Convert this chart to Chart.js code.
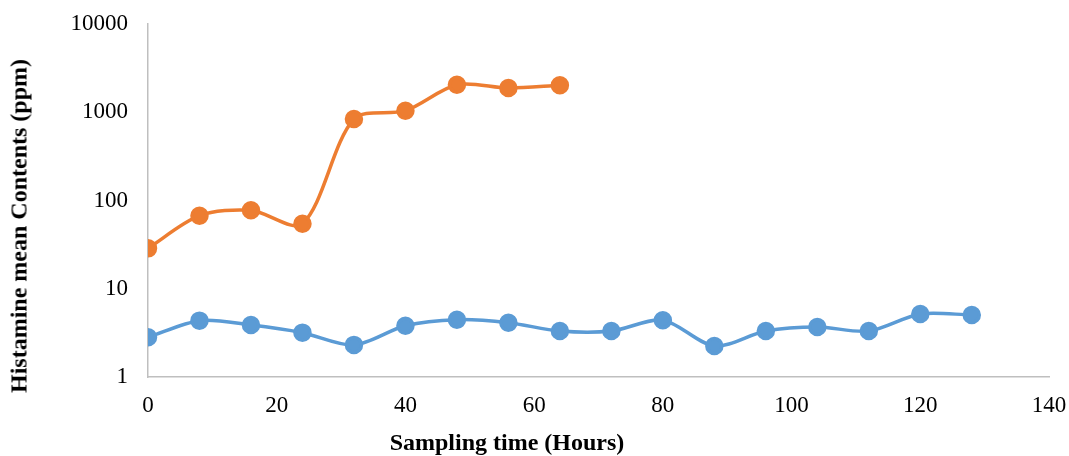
<!DOCTYPE html>
<html>
<head>
<meta charset="utf-8">
<script src="https://cdn.jsdelivr.net/npm/chart.js@4.4.1/dist/chart.umd.min.js"></script>
<style>
  html, body { margin: 0; padding: 0; background: #fff; }
  #wrap { position: relative; width: 1069px; height: 456px; }
  #chart { position: absolute; left: 0; top: 0; }
  .axis-title {
    position: absolute;
    font-family: 'Liberation Serif', 'Times New Roman', serif;
    font-weight: bold;
    font-size: 24px;
    color: #000;
    white-space: nowrap;
  }
  #xTitle { left: 507px; top: 442px; transform: translate(-50%, -50%); }
  #yTitle { left: 19px; top: 226px; transform: translate(-50%, -50%) rotate(-90deg); }
</style>
</head>
<body>
<div id="wrap">
  <canvas id="chart" width="1069" height="456"></canvas>
  <div class="axis-title" id="xTitle">Sampling time (Hours)</div>
  <div class="axis-title" id="yTitle">Histamine mean Contents (ppm)</div>
</div>
<script>
// Sampling times (hours)
const hoursOrange = [0, 8, 16, 24, 32, 40, 48, 56, 64];
const hoursBlue = [0, 8, 16, 24, 32, 40, 48, 56, 64, 72, 80, 88, 96, 104, 112, 120, 128];

// Histamine mean contents (ppm)
const orangeValues = [28.7, 67.3, 77.4, 54.6, 838, 1042, 2052, 1883, 2020];
const blueValues = [2.82, 4.35, 3.88, 3.18, 2.31, 3.81, 4.46, 4.12, 3.32, 3.32, 4.39, 2.25, 3.32, 3.69, 3.32, 5.18, 5.04];

// Axis ticks
const yTicks = [1, 10, 100, 1000, 10000];
const xMin = 0, xMax = 140, xStep = 20;

function toPoints(xs, ys) {
    return xs.map((x, i) => ({ x: x, y: ys[i] }));
}

const tickFont = { family: "'Liberation Serif', 'Times New Roman', serif", size: 23 };
const axisColor = '#bfbfbf';

const ctx = document.getElementById('chart').getContext('2d');
new Chart(ctx, {
    type: 'line',
    data: {
        datasets: [{
            label: 'Orange',
            data: toPoints(hoursOrange, orangeValues),
            borderColor: '#ED7D31',
            backgroundColor: '#ED7D31',
            borderWidth: 3.5,
            pointRadius: 7.5,
            pointHoverRadius: 7.5,
            tension: 0.3,
            fill: false
        }, {
            label: 'Blue',
            data: toPoints(hoursBlue, blueValues),
            borderColor: '#5B9BD5',
            backgroundColor: '#5B9BD5',
            borderWidth: 3.5,
            pointRadius: 7.5,
            pointHoverRadius: 7.5,
            tension: 0.3,
            fill: false
        }]
    },
    options: {
        responsive: false,
        animation: false,
        layout: {
            padding: { top: 24, right: 20, left: 0, bottom: 0 }
        },
        plugins: {
            legend: { display: false },
            tooltip: { enabled: false }
        },
        scales: {
            x: {
                type: 'linear',
                min: xMin,
                max: xMax,
                ticks: {
                    stepSize: xStep,
                    color: '#000',
                    font: tickFont,
                    padding: 15,
                    maxRotation: 0
                },
                grid: { display: false, drawTicks: false },
                border: { color: axisColor, width: 1.5 },
                afterFit: function(scale) {
                    scale.height = 79;
                    scale.paddingLeft = 0;
                    scale.paddingRight = 0;
                }
            },
            y: {
                type: 'logarithmic',
                min: 1,
                max: 10000,
                afterBuildTicks: function(scale) {
                    scale.ticks = yTicks.map(v => ({ value: v }));
                },
                ticks: {
                    color: '#000',
                    font: tickFont,
                    padding: 20,
                    callback: function(value) { return String(value); }
                },
                grid: { display: false, drawTicks: false },
                border: { color: axisColor, width: 1.5 },
                afterFit: function(scale) {
                    scale.width = 148;
                    scale.paddingTop = 0;
                    scale.paddingBottom = 0;
                }
            }
        }
    }
});
</script>
</body>
</html>
